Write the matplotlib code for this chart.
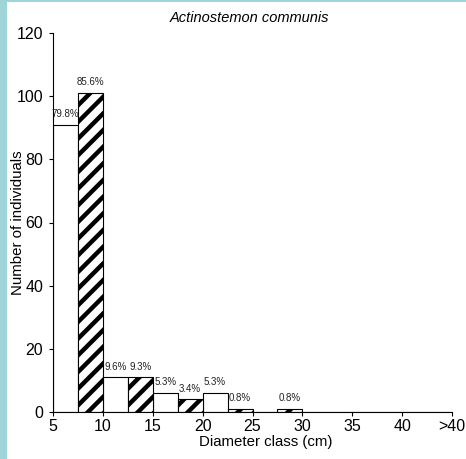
import matplotlib
matplotlib.use("Agg")
import matplotlib.pyplot as plt
from matplotlib.patches import Rectangle
import numpy as np

plt.rcParams['font.family'] = ['Liberation Sans', 'DejaVu Sans']
plt.rcParams['hatch.linewidth'] = 3.2

# diameter classes (left edge of each 5 cm class), last one is ">40"
class_starts = [5, 10, 15, 20, 25, 30, 35, 40]
tick_values = [5, 10, 15, 20, 25, 30, 35, 40, 45]
tick_labels = ['5', '10', '15', '20', '25', '30', '35', '40', '>40']

# two series per class: plain (white) and hatched
plain_counts = [91, 11, 6, 6, 0, 0, 0, 0]
hatched_counts = [101, 11, 4, 1, 1, 0, 0, 0]

title = "Actinostemon communis"
teal = '#9fd4d9'

fig = plt.figure(figsize=(4.66, 4.59), dpi=100)
fig.patch.set_facecolor('white')

# teal frame on left and top edges
fig.patches.append(Rectangle((0, 0), 7 / 466, 1, transform=fig.transFigure,
                             facecolor=teal, edgecolor='none', zorder=0))
fig.patches.append(Rectangle((0, 1 - 2 / 459), 1, 2 / 459, transform=fig.transFigure,
                             facecolor=teal, edgecolor='none', zorder=0))

ax = fig.add_axes([53 / 466, 47 / 459, 399 / 466, 379 / 459])

width = 2.5
x_plain = np.array(class_starts, dtype=float)
x_hatch = x_plain + width

ax.bar(x_plain, plain_counts, width=width, align='edge', color='white',
       edgecolor='black', linewidth=0.8, zorder=2)
ax.bar(x_hatch, hatched_counts, width=width, align='edge', color='white',
       edgecolor='black', linewidth=0.8, hatch='//', zorder=2)

# percentage labels above non-empty bars
tot_p = sum(plain_counts)
tot_h = sum(hatched_counts)
for xs, vals, tot in [(x_plain, plain_counts, tot_p), (x_hatch, hatched_counts, tot_h)]:
    for x, v in zip(xs, vals):
        if v > 0:
            ax.annotate(f"{v / tot * 100:.1f}%", (x + width / 2, v),
                        xytext=(0, 4), textcoords='offset points',
                        ha='center', va='bottom', fontsize=7, color='#222222')

ax.set_xlim(5, 45)
ax.set_ylim(0, 120)
ax.set_xticks(tick_values)
ax.set_xticklabels(tick_labels, fontsize=11.5)
ax.set_yticks(range(0, 121, 20))
ax.tick_params(axis='y', labelsize=11.5, length=3, width=0.8, pad=4)
ax.tick_params(axis='x', length=3, width=0.8, pad=2)

for s in ['top', 'right']:
    ax.spines[s].set_visible(False)
for s in ['left', 'bottom']:
    ax.spines[s].set_linewidth(0.8)

ax.set_xlabel("Diameter class (cm)", fontsize=10.8)
ax.xaxis.set_label_coords(0.534, -0.060)
ax.set_ylabel("Number of individuals", fontsize=10.8)
ax.yaxis.set_label_coords(-0.070, 0.5)

fig.text(249 / 466, 1 - 18 / 459, title, ha='center', va='center',
         fontsize=10.5, style='italic')

fig.savefig("out.png", dpi=100)
